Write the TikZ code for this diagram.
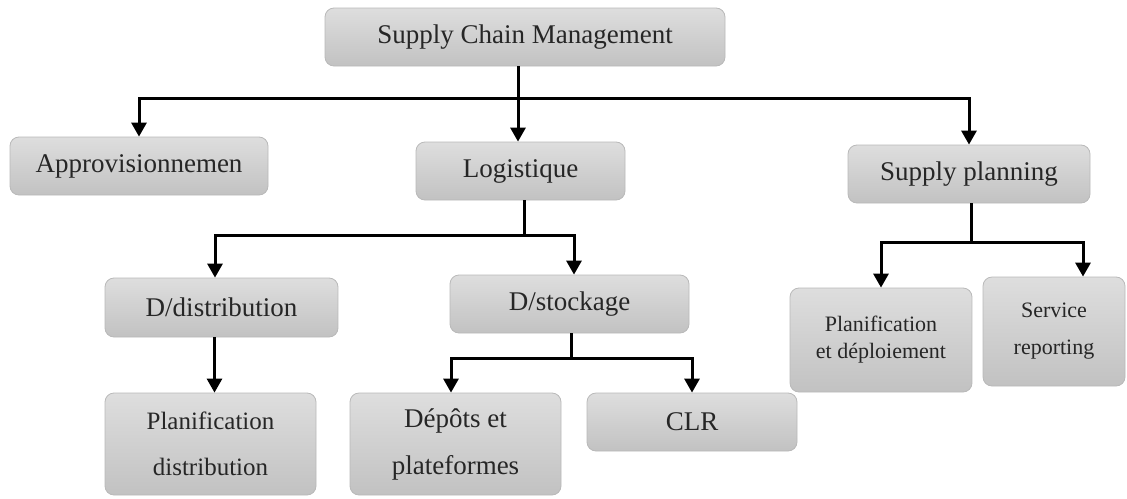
\documentclass[tikz,border=0pt]{standalone}
\usepackage{fontspec}
\setmainfont{Liberation Serif}
\usetikzlibrary{positioning,arrows.meta}
\tikzset{
box/.style={
  rectangle,
  rounded corners=9pt,
  draw=gray!55,
  line width=0.8pt,
  top color=gray!26,
  bottom color=gray!48,
  text=black!85,
  align=center,
  inner sep=0pt,
  font=\fontsize{27}{32}\selectfont
  }
}
\tikzset{
  size/.style 2 args={minimum width=#1, minimum height=#2},
  link/.style={line width=3pt, draw=black},
  arrlink/.style={link, ->}
}

\begin{document}
\begin{tikzpicture}[x=1pt,y=-1pt,>={Triangle[width=15pt,length=14pt]}]
\useasboundingbox (0,0) rectangle (1127,498);
% level 1
\node[box,size={400}{58}] (scm) at (525,37) {Supply Chain Management};
% level 2
\node[box,size={258}{58}] (appro) at (139,166) {Approvisionnemen};
\node[box,size={209}{58}] (logi) at (520.5,171) {Logistique};
\node[box,size={242}{58}] (supply) at (969,174) {Supply planning};
% level 3
\node[box,size={233}{59}] (ddist) at (221.5,307.5) {D/distribution};
\node[box,size={239}{58}] (dstock) at (569.5,304) {D/stockage};
\node[box,size={182}{104},font=\fontsize{22}{27}\selectfont] (pdepl) at (881,340)
  {Planification\\et déploiement};
\node[box,size={142}{109},font=\fontsize{22}{37}\selectfont] (service) at (1054,331.5)
  {Service\\reporting};
% level 4
\node[box,size={211}{102},font=\fontsize{25}{46}\selectfont] (pdist) at (210.5,444)
  {Planification\\distribution};
\node[box,size={211}{102},font=\fontsize{27}{47}\selectfont] (depots) at (455.5,444)
  {Dépôts et\\plateformes};
\node[box,size={210}{58}] (clr) at (692,422) {CLR};

% connectors
\coordinate (scmJ) at (518,98);
\draw[link] (scm.south -| scmJ) -- (scmJ);
\draw[arrlink] (scmJ) -| (appro.north);
\draw[arrlink] (scmJ) -| (supply.north);
\draw[arrlink] (scmJ) -- (scmJ |- logi.north);

\coordinate (logiJ) at (524,235);
\draw[link] (logi.south -| logiJ) -- (logiJ);
\draw[arrlink] (logiJ) -| ([xshift=-6.5pt]ddist.north);
\draw[arrlink] (logiJ) -| ([xshift=4.5pt]dstock.north);

\draw[arrlink] ([xshift=-7pt]ddist.south) -- ([xshift=-7pt]ddist.south |- pdist.north);

\coordinate (dstockJ) at (571,358);
\draw[link] (dstock.south -| dstockJ) -- (dstockJ);
\draw[arrlink] (dstockJ) -| ([xshift=-4.5pt]depots.north);
\draw[arrlink] (dstockJ) -| (clr.north);

\coordinate (supplyJ) at (971,242);
\draw[link] (supply.south -| supplyJ) -- (supplyJ);
\draw[arrlink] (supplyJ) -| (pdepl.north);
\draw[arrlink] (supplyJ) -| ([xshift=29pt]service.north);
\end{tikzpicture}
\end{document}
